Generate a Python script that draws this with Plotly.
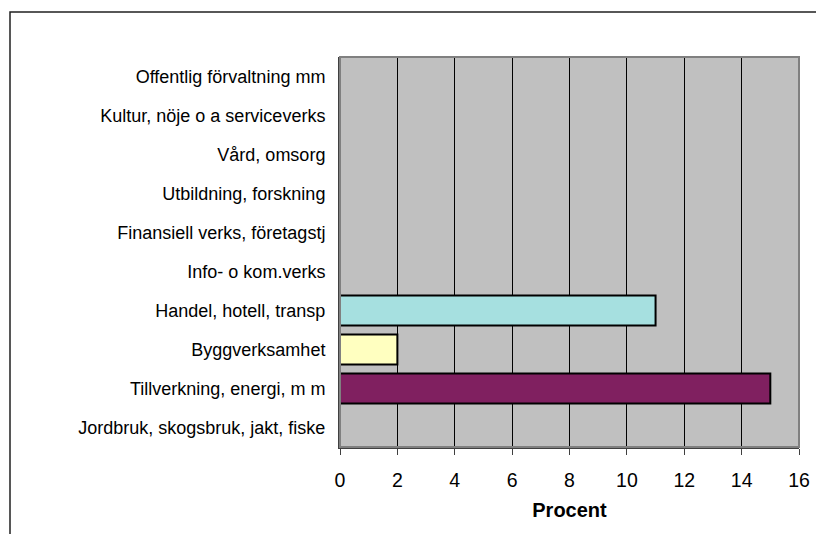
import plotly.graph_objects as go

categories = [
    "Jordbruk, skogsbruk, jakt, fiske",
    "Tillverkning, energi, m m",
    "Byggverksamhet",
    "Handel, hotell, transp",
    "Info- o kom.verks",
    "Finansiell verks, företagstj",
    "Utbildning, forskning",
    "Vård, omsorg",
    "Kultur, nöje o a serviceverks",
    "Offentlig förvaltning mm",
]
values = [0, 15, 2, 11, 0, 0, 0, 0, 0, 0]
bar_colors = ["#C0C0C0", "#802060", "#FFFFC0", "#A6E0E0",
              "#C0C0C0", "#C0C0C0", "#C0C0C0", "#C0C0C0", "#C0C0C0", "#C0C0C0"]
x_ticks = [0, 2, 4, 6, 8, 10, 12, 14, 16]
x_title = "Procent"

FONT = "Liberation Sans, Arial, sans-serif"

fig = go.Figure(go.Bar(
    x=values, y=categories, orientation="h",
    width=0.77,
    marker=dict(color=bar_colors, line=dict(color="black", width=2)),
    hoverinfo="x+y",
))

L, R, T, B = 340, 799, 57, 447
W, H = 816, 534
pw, ph = R - L, B - T

fig.update_layout(
    width=W, height=H,
    margin=dict(l=L, r=W - R, t=T, b=H - B, pad=0),
    paper_bgcolor="white",
    plot_bgcolor="#C0C0C0",
    showlegend=False,
    font=dict(family=FONT, color="black"),
    xaxis=dict(
        range=[0, 16], tickvals=x_ticks, ticktext=[str(t) for t in x_ticks],
        showgrid=True, gridcolor="black", gridwidth=1,
        zeroline=False,
        showline=True, linecolor="#404040", linewidth=2,
        ticks="outside", ticklen=6, tickcolor="#404040", tickwidth=1,
        ticklabelstandoff=9,
        tickfont=dict(size=19.5, family=FONT),
        title=dict(text="<b>" + x_title + "</b>", font=dict(size=20, family=FONT), standoff=13),
        automargin=False,
    ),
    yaxis=dict(
        categoryorder="array", categoryarray=categories,
        range=[-0.5, len(categories) - 0.5],
        showgrid=False, zeroline=False,
        showline=True, linecolor="#404040", linewidth=2,
        ticks="outside", ticklen=9, tickcolor="rgba(0,0,0,0)",
        tickfont=dict(size=18, family=FONT),
        automargin=False,
    ),
    shapes=[
        dict(type="rect", xref="paper", yref="paper", x0=0, x1=1, y0=0, y1=1,
             line=dict(color="#808080", width=2), layer="above"),
        dict(type="rect", xref="paper", yref="paper",
             x0=(10 - L) / pw, x1=1.2, y0=-0.5, y1=(B - 12) / ph,
             line=dict(color="#202020", width=1.5)),
    ],
)

fig.write_html(
    "out.html",
    config={"displayModeBar": False},
    post_script="document.body.style.margin='0';document.documentElement.style.overflow='hidden';document.body.style.overflow='hidden';",
)
